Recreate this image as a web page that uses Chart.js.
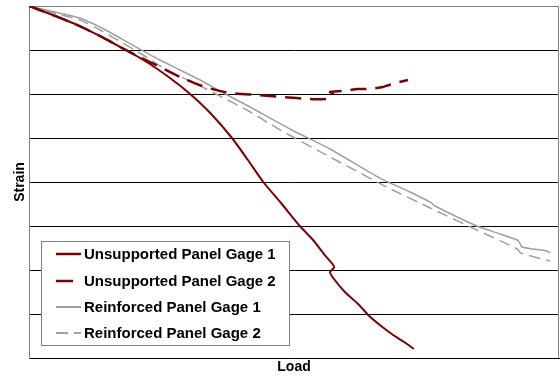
<!DOCTYPE html>
<html>
<head>
<meta charset="utf-8">
<script src="https://cdn.jsdelivr.net/npm/chart.js@4.4.1/dist/chart.umd.min.js"></script>
<style>
  html, body { margin: 0; padding: 0; background: #fff; }
  canvas { display: block; }
</style>
</head>
<body>
<canvas id="strainChart" width="560" height="376"></canvas>
<script>
// Load (0-100) vs strain readings
const unsup1Load   = [0, 4.0, 8.7, 13.4, 17.2, 21.9, 26.6, 30.4, 34.2, 38.3, 41.3, 44.2, 47.7, 51.1, 53.6, 55.8, 57.4, 57.5, 56.8, 57.4, 59.6, 62.1, 64.0, 66.2, 68.7, 70.8, 72.6];
const unsup1Strain = [0, -91, -205, -341, -466, -625, -818, -1000, -1216, -1500, -1750, -2000, -2250, -2500, -2659, -2830, -2943, -2977, -3023, -3091, -3250, -3386, -3511, -3625, -3739, -3818, -3898];

const unsup2Load   = [0, 4.0, 8.7, 13.4, 17.2, 20.9, 24.7, 28.5, 33.2, 37.9, 43.0, 47.9, 53.0, 56.0, 57.0, 57.4, 56.8, 59.1, 62.1, 64.3, 66.8, 69.1, 71.5];
const unsup2Strain = [0, -91, -205, -341, -466, -580, -693, -807, -920, -989, -1011, -1034, -1057, -1057, -1045, -1000, -977, -966, -943, -943, -920, -875, -841];

const reinf1Load   = [0, 4.0, 9.6, 13.4, 17.2, 20.9, 24.7, 28.5, 32.3, 36.0, 41.7, 49.6, 56.8, 66.2, 71.9, 76.0, 76.6, 84.5, 88.9, 92.1, 92.6, 93.0, 95.1, 97.7, 98.3];
const reinf1Strain = [0, -57, -136, -239, -364, -489, -614, -727, -841, -966, -1148, -1409, -1625, -1955, -2114, -2239, -2273, -2500, -2591, -2659, -2693, -2739, -2761, -2784, -2807];

const reinf2Load   = [0, 4.0, 9.6, 13.4, 20.9, 26.6, 30.9, 36.0, 41.1, 47.4, 56.8, 67.5, 75.7, 84.5, 92.1, 92.8, 98.3];
const reinf2Strain = [0, -68, -159, -273, -534, -750, -864, -1023, -1182, -1409, -1716, -2057, -2295, -2545, -2761, -2807, -2898];

const seriesNames = ['Unsupported Panel Gage 1', 'Unsupported Panel Gage 2', 'Reinforced Panel Gage 1', 'Reinforced Panel Gage 2'];

const RED = '#800000';
const GRAY = '#a0a0a0';

function toPoints(xs, ys) {
    return xs.map((x, i) => ({ x: x, y: ys[i] }));
}

// legend box drawn inside the plot, bottom-left
const boxLegend = {
    id: 'boxLegend',
    afterDatasetsDraw(chart) {
        const ctx = chart.ctx;
        const left = 41, top = 241, w = 248, h = 104;
        ctx.save();
        ctx.fillStyle = '#fff';
        ctx.fillRect(left, top, w, h);
        ctx.strokeStyle = '#808080';
        ctx.lineWidth = 1;
        ctx.strokeRect(left + 0.5, top + 0.5, w, h);
        const rows = [254, 281, 307, 333];
        chart.data.datasets.forEach((ds, i) => {
            const y = rows[i];
            ctx.beginPath();
            ctx.strokeStyle = ds.borderColor;
            ctx.lineWidth = i < 2 ? 2.5 : 2;
            if (i === 1) {
                ctx.setLineDash([17, 9]);
                ctx.lineDashOffset = 0;
            } else if (i === 3) {
                ctx.setLineDash([12, 6]);
            } else {
                ctx.setLineDash([]);
            }
            ctx.moveTo(56, y);
            ctx.lineTo(81, y);
            ctx.stroke();
            ctx.setLineDash([]);
            ctx.fillStyle = '#000';
            ctx.font = 'bold 15px "Liberation Sans", Arial, sans-serif';
            ctx.textBaseline = 'middle';
            ctx.fillText(ds.label, 84, y + 1);
        });
        ctx.restore();
    },
    beforeDatasetsDraw(chart) {
        // gray frame on top and right of the plot
        const a = chart.chartArea;
        const ctx = chart.ctx;
        ctx.save();
        ctx.strokeStyle = '#808080';
        ctx.lineWidth = 1;
        ctx.beginPath();
        ctx.moveTo(a.left, a.top + 0.5);
        ctx.lineTo(a.right, a.top + 0.5);
        ctx.moveTo(a.right - 0.5, a.top);
        ctx.lineTo(a.right - 0.5, a.bottom);
        ctx.stroke();
        ctx.restore();
    }
};

new Chart(
    document.getElementById('strainChart'),
    {
        type: 'line',
        data: {
            datasets: [
                {
                    label: seriesNames[0],
                    data: toPoints(unsup1Load, unsup1Strain),
                    borderColor: RED,
                    borderWidth: 2,
                    pointRadius: 0,
                    tension: 0.2
                },
                {
                    label: seriesNames[1],
                    data: toPoints(unsup2Load, unsup2Strain),
                    borderColor: RED,
                    borderWidth: 2.5,
                    borderDash: [16, 9],
                    pointRadius: 0,
                    tension: 0.2
                },
                {
                    label: seriesNames[2],
                    data: toPoints(reinf1Load, reinf1Strain),
                    borderColor: GRAY,
                    borderWidth: 1.5,
                    pointRadius: 0,
                    tension: 0.2
                },
                {
                    label: seriesNames[3],
                    data: toPoints(reinf2Load, reinf2Strain),
                    borderColor: GRAY,
                    borderWidth: 1.5,
                    borderDash: [11, 6],
                    pointRadius: 0,
                    tension: 0.2
                }
            ]
        },
        options: {
            responsive: false,
            animation: false,
            devicePixelRatio: 1,
            layout: { padding: { top: 6, right: 1, left: 0, bottom: 0 } },
            plugins: {
                legend: { display: false },
                tooltip: { enabled: false }
            },
            scales: {
                x: {
                    type: 'linear',
                    min: 0,
                    max: 100,
                    ticks: { display: false },
                    grid: { display: false },
                    border: { display: true, color: '#000', width: 1 },
                    title: {
                        display: true,
                        text: 'Load',
                        color: '#000',
                        font: { family: '"Liberation Sans", Arial, sans-serif', size: 14, weight: 'bold' },
                        padding: { top: 0, bottom: 0 }
                    },
                    afterFit: scale => { scale.height = 18; }
                },
                y: {
                    min: -4000,
                    max: 0,
                    ticks: { display: false, stepSize: 500 },
                    grid: {
                        color: ctx => (ctx.tick && ctx.tick.value === 0) ? '#808080' : '#000',
                        lineWidth: 1,
                        drawTicks: false
                    },
                    border: { display: true, color: '#808080', width: 1 },
                    title: {
                        display: true,
                        text: 'Strain',
                        color: '#000',
                        font: { family: '"Liberation Sans", Arial, sans-serif', size: 14, weight: 'bold' },
                        padding: { top: 12, bottom: 0 }
                    },
                    afterFit: scale => { scale.width = 29; }
                }
            }
        },
        plugins: [boxLegend]
    }
);
</script>
</body>
</html>
